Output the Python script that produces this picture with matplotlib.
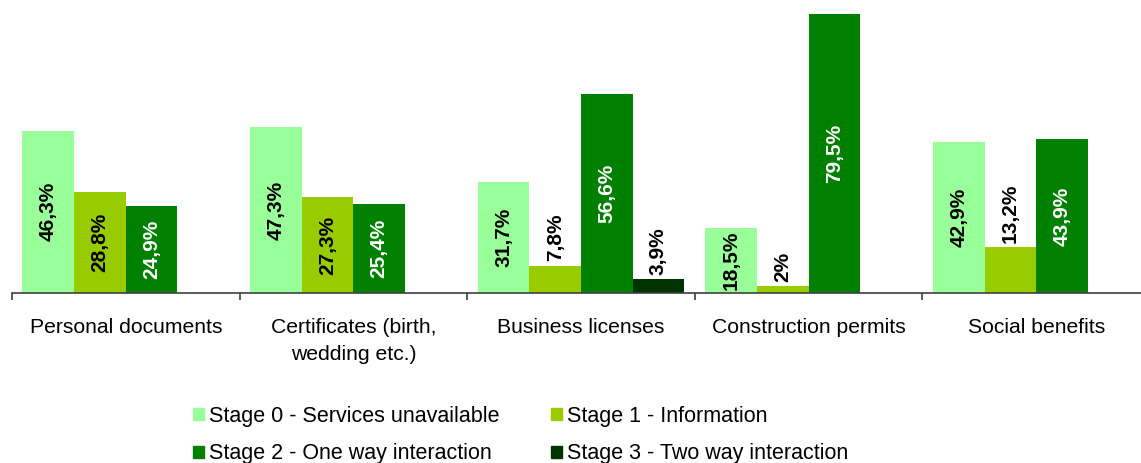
import matplotlib
matplotlib.use("Agg")
import matplotlib.pyplot as plt
import numpy as np

categories = ["Personal documents", "Certificates (birth,\nwedding etc.)",
              "Business licenses", "Construction permits", "Social benefits"]
series_names = ["Stage 0 - Services unavailable", "Stage 1 - Information",
                "Stage 2 - One way interaction", "Stage 3 - Two way interaction"]
stage0 = [46.3, 47.3, 31.7, 18.5, 42.9]
stage1 = [28.8, 27.3, 7.8, 2.0, 13.2]
stage2 = [24.9, 25.4, 56.6, 79.5, 43.9]
stage3 = [None, None, 3.9, None, None]
label_texts = [
    ["46,3%", "47,3%", "31,7%", "18,5%", "42,9%"],
    ["28,8%", "27,3%", "7,8%", "2%", "13,2%"],
    ["24,9%", "25,4%", "56,6%", "79,5%", "43,9%"],
    [None, None, "3,9%", None, None],
]

colors = ["#99FF99", "#99CC00", "#008000", "#003300"]
text_colors = ["black", "black", "white", "black"]

plt.rcParams['font.family'] = ['Liberation Sans', 'DejaVu Sans']

fig = plt.figure(figsize=(11.41, 4.63), dpi=100)
ax = fig.add_axes([12/1141, 170/463, 1138/1141, 293/463])

x = np.arange(len(categories))
w = 0.227
all_series = [stage0, stage1, stage2, stage3]
handles = []
for i, vals in enumerate(all_series):
    pos = x - 2*w + w/2 + i*w
    for j, v in enumerate(vals):
        if v is None:
            continue
        ax.bar(pos[j], v, width=w, color=colors[i], linewidth=0)
        txt = label_texts[i][j]
        if v >= 15:
            ax.text(pos[j], v/2, txt, rotation=90, ha='center', va='center',
                    fontsize=15, fontweight='bold', color=text_colors[i])
        else:
            ax.annotate(txt, (pos[j], v), xytext=(0, 3), textcoords='offset points',
                        rotation=90, ha='center', va='bottom',
                        fontsize=15, fontweight='bold', color='black')
    handles.append(plt.Rectangle((0, 0), 1, 1, color=colors[i]))

ax.set_xlim(-0.5, len(categories) - 0.5)
ax.set_ylim(0, 83.5)
for s in ['top', 'right', 'left']:
    ax.spines[s].set_visible(False)
ax.spines['bottom'].set_color('#404040')
ax.spines['bottom'].set_linewidth(1.2)
ax.set_yticks([])
ax.set_xticks(np.arange(len(categories) + 1) - 0.5)
ax.set_xticklabels([])
ax.tick_params(axis='x', length=5, color='#404040', width=1.2)
ax.set_xticks(x, minor=True)
ax.set_xticklabels(categories, minor=True, fontsize=15.2, linespacing=1.55)
ax.tick_params(axis='x', which='minor', length=0, pad=18)
for lbl in ax.get_xticklabels(minor=True):
    lbl.set_verticalalignment('top')

order = [0, 2, 1, 3]
fig.legend([handles[k] for k in order], [series_names[k] for k in order],
           ncol=2, loc='upper left',
           bbox_to_anchor=(193/1141, 1 - 406/463), frameon=False,
           fontsize=15.5, handlelength=0.5, handleheight=0.5, handletextpad=0.25,
           columnspacing=2.4, labelspacing=0.76, borderaxespad=0, borderpad=0)

fig.savefig("out.png", dpi=100)
